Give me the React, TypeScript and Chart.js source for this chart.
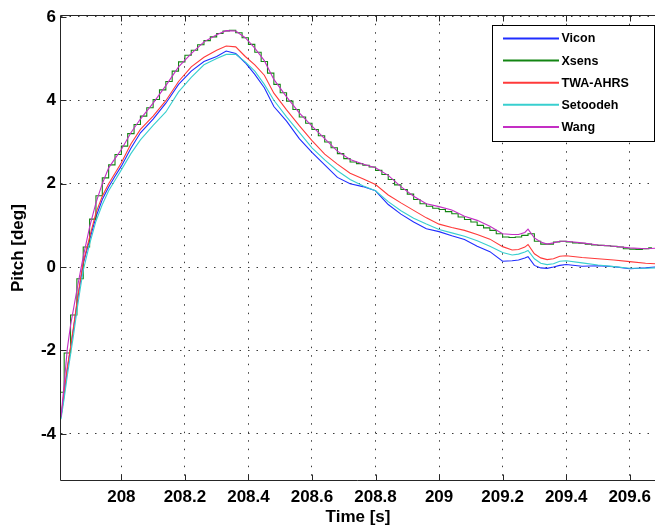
import React, { useEffect, useRef } from "react";
import { Chart, registerables } from "chart.js";

Chart.register(...registerables);

// Shared time base (s) for the smooth estimates and the reference
const timeS = [
  207.81, 207.82, 207.83, 207.84, 207.85, 207.86, 207.87, 207.88, 207.9, 207.92,
  207.94, 207.96, 207.98, 208.0, 208.03, 208.06, 208.1, 208.14, 208.18, 208.22,
  208.26, 208.3, 208.33, 208.36, 208.39, 208.42, 208.45, 208.48, 208.52, 208.56,
  208.6, 208.64, 208.68, 208.72, 208.76, 208.8, 208.84, 208.88, 208.92, 208.96,
  209.0, 209.04, 209.08, 209.12, 209.16, 209.2, 209.23, 209.25, 209.27, 209.28,
  209.3, 209.32, 209.34, 209.36, 209.38, 209.4, 209.45, 209.5, 209.55, 209.6,
  209.65, 209.68,
];

// Pitch [deg]
const vicon = [
  -3.6, -3.05, -2.45, -1.95, -1.45, -0.9, -0.4, 0.08, 0.65, 1.2,
  1.62, 1.92, 2.18, 2.42, 2.85, 3.22, 3.55, 3.93, 4.38, 4.7,
  4.93, 5.05, 5.18, 5.12, 4.9, 4.62, 4.3, 3.85, 3.5, 3.08,
  2.75, 2.45, 2.15, 2.0, 1.93, 1.83, 1.5, 1.27, 1.08, 0.92,
  0.85, 0.75, 0.66, 0.5, 0.37, 0.14, 0.15, 0.17, 0.22, 0.25,
  0.04, -0.02, -0.03, 0.0, 0.04, 0.06, 0.02, 0.03, 0.01, -0.04,
  -0.02, 0.0,
];

const twaAhrs = [
  -3.6, -2.98, -2.4, -1.92, -1.4, -0.85, -0.35, 0.12, 0.72, 1.3,
  1.7, 2.0, 2.25, 2.5, 2.95, 3.3, 3.62, 3.99, 4.45, 4.8,
  5.03, 5.2, 5.3, 5.28, 5.05, 4.85, 4.6, 4.17, 3.77, 3.39,
  3.03, 2.71, 2.47, 2.25, 2.12, 1.98, 1.73, 1.54, 1.36, 1.18,
  1.03, 0.95, 0.88, 0.78, 0.67, 0.49, 0.41, 0.42, 0.48, 0.54,
  0.32, 0.22, 0.18, 0.2, 0.26, 0.27, 0.23, 0.2, 0.17, 0.13,
  0.09, 0.08,
];

const setoodeh = [
  -3.65, -3.15, -2.6, -2.1, -1.6, -1.05, -0.55, -0.08, 0.55, 1.1,
  1.5, 1.83, 2.08, 2.33, 2.72, 3.05, 3.4, 3.72, 4.2, 4.55,
  4.85, 5.0, 5.1, 5.1, 4.92, 4.7, 4.38, 4.0, 3.6, 3.23,
  2.86, 2.57, 2.31, 2.1, 1.95, 1.83, 1.57, 1.35, 1.17, 1.03,
  0.9, 0.82, 0.74, 0.63, 0.5, 0.35, 0.29, 0.31, 0.36, 0.4,
  0.2, 0.09, 0.06, 0.08, 0.14, 0.15, 0.1, 0.05, 0.01, -0.03,
  -0.03, -0.02,
];

const wang = [
  -3.6, -2.8, -1.95, -1.4, -0.98, -0.55, -0.15, 0.25, 0.96, 1.54,
  2.0, 2.38, 2.6, 2.82, 3.22, 3.55, 3.93, 4.35, 4.8, 5.12,
  5.4, 5.57, 5.67, 5.66, 5.5, 5.25, 4.95, 4.5, 4.08, 3.7,
  3.38, 3.08, 2.78, 2.58, 2.47, 2.38, 2.2, 1.93, 1.7, 1.52,
  1.45, 1.37, 1.22, 1.12, 0.98, 0.8, 0.78, 0.78, 0.83, 0.91,
  0.7, 0.6, 0.55, 0.58, 0.62, 0.62, 0.58, 0.53, 0.5, 0.46,
  0.44, 0.45,
];

// Xsens output is sampled on its own coarser clock (held between samples)
const xsensTime = [
  207.81, 207.83, 207.85, 207.87, 207.89, 207.91, 207.93, 207.95, 207.97, 207.99,
  208.01, 208.03, 208.05, 208.07, 208.09, 208.11, 208.13, 208.15, 208.17, 208.19,
  208.21, 208.23, 208.25, 208.27, 208.29, 208.31, 208.33, 208.35, 208.37, 208.39,
  208.41, 208.43, 208.45, 208.47, 208.49, 208.51, 208.53, 208.55, 208.57, 208.59,
  208.61, 208.63, 208.65, 208.67, 208.69, 208.71, 208.73, 208.75, 208.77, 208.79,
  208.81, 208.83, 208.85, 208.87, 208.89, 208.91, 208.93, 208.95, 208.97, 208.99,
  209.01, 209.03, 209.05, 209.07, 209.09, 209.11, 209.13, 209.15, 209.17, 209.19,
  209.21, 209.23, 209.25, 209.27, 209.29, 209.31, 209.33, 209.35, 209.37, 209.39,
  209.41, 209.43, 209.45, 209.47, 209.49, 209.51, 209.53, 209.55, 209.57, 209.59,
  209.61, 209.63, 209.65, 209.67,
];

const xsens = [
  -3.0, -2.06, -1.15, -0.28, 0.48, 1.15, 1.71, 2.14, 2.45, 2.7,
  2.9, 3.2, 3.42, 3.62, 3.82, 4.02, 4.25, 4.45, 4.7, 4.92,
  5.08, 5.2, 5.33, 5.43, 5.52, 5.6, 5.66, 5.68, 5.62, 5.5,
  5.34, 5.15, 4.93, 4.65, 4.38, 4.18, 3.98, 3.78, 3.6, 3.45,
  3.3, 3.15, 3.0, 2.86, 2.72, 2.6, 2.52, 2.48, 2.44, 2.4,
  2.32, 2.22, 2.1, 1.97, 1.86, 1.75, 1.62, 1.52, 1.46, 1.41,
  1.38, 1.33, 1.28, 1.2, 1.14, 1.08, 1.0, 0.94, 0.88, 0.8,
  0.72, 0.71, 0.72, 0.76, 0.8, 0.62, 0.55, 0.55, 0.6, 0.62,
  0.6, 0.58, 0.57, 0.55, 0.53, 0.52, 0.51, 0.5, 0.48, 0.44,
  0.43, 0.42, 0.44, 0.46,
];

const seriesLabels = ["Vicon", "Xsens", "TWA-AHRS", "Setoodeh", "Wang"];
const seriesColors = ["#1f2dff", "#138513", "#ff3a3a", "#38cfcf", "#c42ec4"];

const X_MIN = 207.81;
const X_MAX = 209.68;
const Y_MIN = -5.13;
const Y_MAX = 6.04;

const FONT = '"Liberation Sans", Arial, Helvetica, sans-serif';

const zip = (xs: number[], ys: number[]) => xs.map((x, i) => ({ x, y: ys[i] }));

// Axis box with inward tick marks (top, left, bottom)
const framePlugin = {
  id: "frame",
  afterDatasetsDraw(chart: any) {
    const { ctx, chartArea, scales } = chart;
    const l = Math.round(chartArea.left) - 0.5;
    const r = Math.round(chartArea.right);
    const t = Math.round(chartArea.top) + 0.5;
    const b = Math.round(chartArea.bottom) - 0.5;
    ctx.save();
    ctx.strokeStyle = "#262626";
    ctx.lineWidth = 1;
    ctx.setLineDash([]);
    ctx.beginPath();
    ctx.moveTo(l, b);
    ctx.lineTo(l, t);
    ctx.lineTo(r, t);
    ctx.moveTo(l, b);
    ctx.lineTo(r, b);
    const tick = 6;
    scales.x.ticks.forEach((tk: any) => {
      const px = Math.round(scales.x.getPixelForValue(tk.value)) + 0.5;
      ctx.moveTo(px, b);
      ctx.lineTo(px, b - tick);
      ctx.moveTo(px, t);
      ctx.lineTo(px, t + tick);
    });
    scales.y.ticks.forEach((tk: any) => {
      const py = Math.round(scales.y.getPixelForValue(tk.value)) + 0.5;
      ctx.moveTo(l, py);
      ctx.lineTo(l + tick, py);
    });
    ctx.stroke();
    ctx.restore();
  },
};

// Boxed legend in the upper-right corner of the plot
const boxLegendPlugin = {
  id: "boxLegend",
  afterDraw(chart: any) {
    const { ctx, chartArea } = chart;
    const x0 = Math.round(chartArea.right) - 162.5;
    const y0 = Math.round(chartArea.top) + 10.5;
    const w = 162;
    const h = 116;
    ctx.save();
    ctx.fillStyle = "#ffffff";
    ctx.fillRect(x0, y0, w, h);
    ctx.strokeStyle = "#000000";
    ctx.lineWidth = 1;
    ctx.strokeRect(x0, y0, w, h);
    ctx.font = `bold 12.5px ${FONT}`;
    ctx.textBaseline = "middle";
    ctx.textAlign = "left";
    chart.data.datasets.forEach((ds: any, i: number) => {
      const y = y0 + 13 + 22.1 * i;
      ctx.strokeStyle = ds.borderColor;
      ctx.lineWidth = 2;
      ctx.beginPath();
      ctx.moveTo(x0 + 10.5, y);
      ctx.lineTo(x0 + 66.5, y);
      ctx.stroke();
      ctx.fillStyle = "#000000";
      ctx.fillText(ds.label, x0 + 69, y + 0.5);
    });
    ctx.restore();
  },
};

export default function App() {
  const canvasRef = useRef<HTMLCanvasElement | null>(null);

  useEffect(() => {
    const canvas = canvasRef.current;
    if (!canvas) return;

    const seriesData = [
      zip(timeS, vicon),
      zip(xsensTime, xsens),
      zip(timeS, twaAhrs),
      zip(timeS, setoodeh),
      zip(timeS, wang),
    ];
    // later series are painted on top of earlier ones
    const drawOrder = [5, 4, 3, 2, 1];

    const chart = new Chart(canvas, {
      type: "line",
      data: {
        datasets: seriesData.map((data, i) => ({
          label: seriesLabels[i],
          data,
          borderColor: seriesColors[i],
          backgroundColor: seriesColors[i],
          borderWidth: 1.1,
          pointRadius: 0,
          tension: 0,
          fill: false,
          stepped: i === 1 ? "middle" : false,
          order: drawOrder[i],
        })),
      },
      options: {
        responsive: false,
        animation: false,
        events: [],
        layout: { padding: { top: 11, right: 1, left: 0, bottom: 0 } },
        plugins: {
          legend: { display: false },
          tooltip: { enabled: false },
        },
        scales: {
          x: {
            type: "linear",
            min: X_MIN,
            max: X_MAX,
            afterFit: (s: any) => {
              s.height = 50;
            },
            grid: { color: "#3a3a3a", lineWidth: 1, drawTicks: false },
            border: { display: false, dash: [1.5, 7] },
            ticks: {
              stepSize: 0.2,
              includeBounds: false,
              autoSkip: false,
              maxRotation: 0,
              padding: 6,
              color: "#000",
              font: { family: FONT, size: 17, weight: "bold" },
              callback: (v: any) => String(Math.round(Number(v) * 10) / 10),
            },
            title: {
              display: true,
              text: "Time [s]",
              color: "#000",
              font: { family: FONT, size: 17, weight: "bold" },
              padding: { top: 0, bottom: 3 },
            },
          },
          y: {
            type: "linear",
            min: Y_MIN,
            max: Y_MAX,
            afterFit: (s: any) => {
              s.width = 61;
            },
            grid: { color: "#3a3a3a", lineWidth: 1, drawTicks: false },
            border: { display: false, dash: [1.5, 7] },
            ticks: {
              stepSize: 2,
              includeBounds: false,
              padding: 5,
              color: "#000",
              font: { family: FONT, size: 17, weight: "bold" },
              callback: (v: any) => String(Math.round(Number(v))),
            },
            title: {
              display: true,
              text: "Pitch [deg]",
              color: "#000",
              font: { family: FONT, size: 17, weight: "bold" },
              padding: { top: 8, bottom: 0 },
            },
          },
        },
      },
      plugins: [framePlugin, boxLegendPlugin],
    } as any);

    return () => chart.destroy();
  }, []);

  return (
    <div
      style={{
        position: "absolute",
        left: 0,
        top: 0,
        width: 657,
        height: 531,
        background: "#ffffff",
      }}
    >
      <canvas
        ref={canvasRef}
        width={657}
        height={531}
        style={{ display: "block", width: 657, height: 531 }}
      />
    </div>
  );
}
